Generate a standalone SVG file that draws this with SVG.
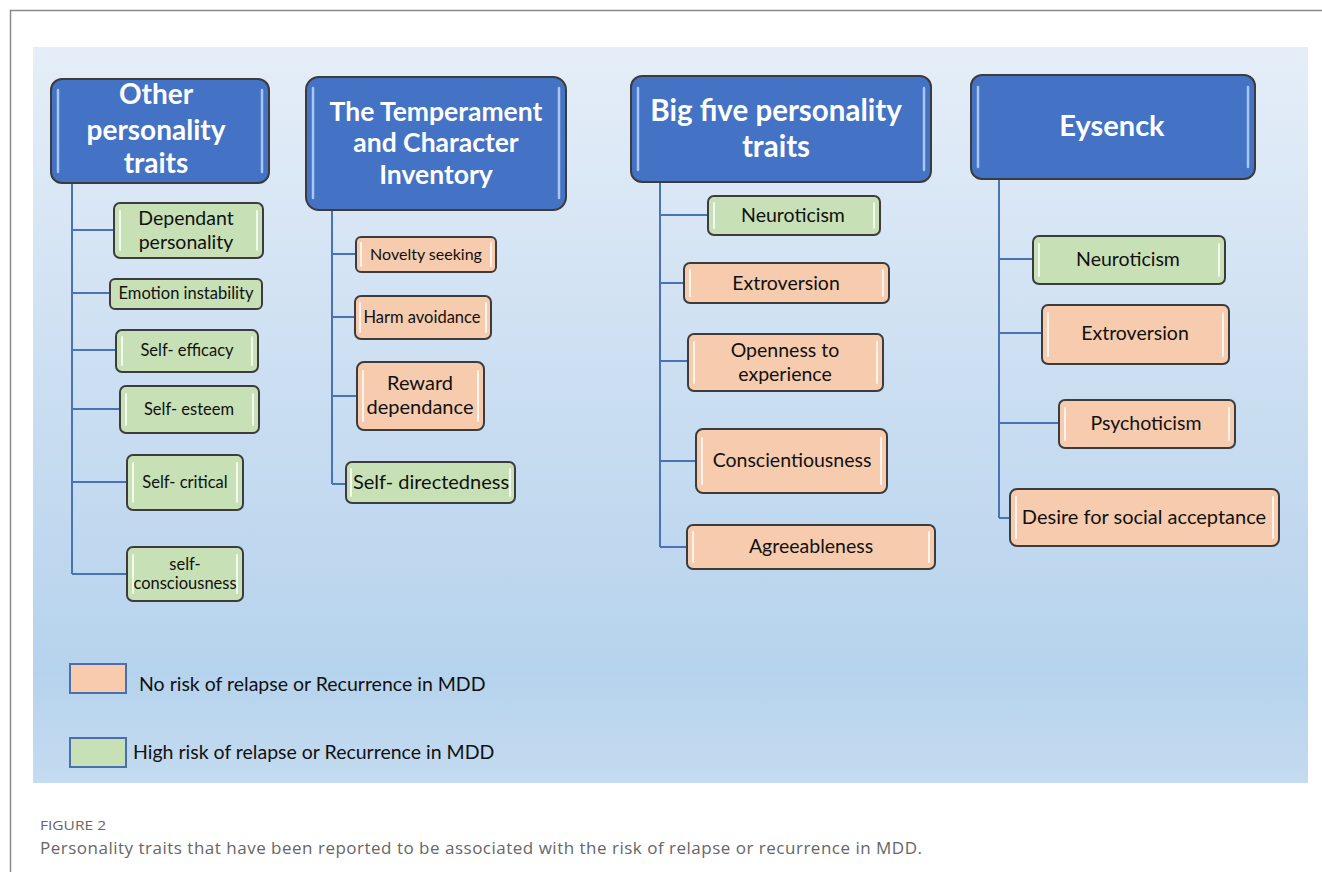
<svg xmlns="http://www.w3.org/2000/svg" width="1322" height="872" viewBox="0 0 1322 872">
<defs>
<linearGradient id="bg" x1="0" y1="0" x2="0" y2="1">
<stop offset="0" stop-color="#e5eef8"/>
<stop offset="0.5" stop-color="#c9ddf1"/>
<stop offset="0.85" stop-color="#b6d3ed"/>
<stop offset="1" stop-color="#c4dbf0"/>
</linearGradient>
<style>
.hdr{fill:#4472c4;stroke:#3c3c3c;stroke-width:2}
.g{fill:#c7e0b5;stroke:#3c3c3c;stroke-width:2}
.o{fill:#f7cbad;stroke:#3c3c3c;stroke-width:2}
.hl{stroke:#ffffff;stroke-width:2;opacity:0.8;stroke-linecap:round}
.hhl{stroke:#a9c6ee;stroke-width:2.5;stroke-linecap:round}
.ht{font-family:Lato,"Liberation Sans",sans-serif;font-weight:bold;fill:#ffffff;text-anchor:middle}
.t{font-family:Lato,"Liberation Sans",sans-serif;fill:#111111;text-anchor:middle}
.c{stroke:#4a72b8;stroke-width:2;fill:none}
.lg{font-family:Lato,"Liberation Sans",sans-serif;fill:#111111;font-size:19.5px}
.cap{font-family:"Open Sans","Noto Sans",sans-serif;fill:#666666}
</style>
</defs>
<rect x="0" y="0" width="1322" height="872" fill="#ffffff"/>
<path d="M10.5 872 V10.5 H1322" fill="none" stroke="#8a8a8a" stroke-width="1.5"/>
<rect x="33" y="47" width="1275" height="736" fill="url(#bg)"/>

<g id="connectors">
<path class="c" d="M72 183 V574 M72 230 H114 M72 293 H110 M72 350 H116 M72 409 H120 M72 482 H127 M72 574 H127"/>
<path class="c" d="M332 210 V484 M332 254 H356 M332 317 H355 M332 396 H357 M332 484 H346"/>
<path class="c" d="M660 182 V547 M660 215 H708 M660 283 H684 M660 361 H688 M660 461 H696 M660 547 H687"/>
<path class="c" d="M999 179 V518 M999 259 H1033 M999 333 H1042 M999 423 H1059 M999 518 H1010"/>
</g>

<g id="h1">
<rect class="hdr" x="51" y="79" width="218" height="104" rx="11"/>
<line class="hhl" x1="58" y1="90" x2="58" y2="172"/><line class="hhl" x1="262" y1="90" x2="262" y2="172"/>
<text class="ht" font-size="28"><tspan x="156" y="104">Other</tspan><tspan x="156" y="140">personality</tspan><tspan x="156" y="173">traits</tspan></text>
</g>
<g id="n_dep">
<rect class="g" x="114" y="203" width="149" height="55" rx="6"/>
<line class="hl" x1="120" y1="211" x2="120" y2="250"/><line class="hl" x1="257" y1="211" x2="257" y2="250"/>
<text class="t" font-size="19.5"><tspan x="186" y="225">Dependant</tspan><tspan x="186" y="249">personality</tspan></text>
</g>
<g id="n_emo">
<rect class="g" x="110" y="279" width="152" height="30" rx="5"/>
<text class="t" font-size="16.5" x="186" y="299">Emotion instability</text>
</g>
<g id="n_eff">
<rect class="g" x="116" y="330" width="142" height="42" rx="6"/>
<line class="hl" x1="122" y1="337" x2="122" y2="365"/><line class="hl" x1="252" y1="337" x2="252" y2="365"/>
<text class="t" font-size="16.5" x="187" y="356">Self- efficacy</text>
</g>
<g id="n_est">
<rect class="g" x="120" y="386" width="139" height="47" rx="6"/>
<line class="hl" x1="126" y1="394" x2="126" y2="425"/><line class="hl" x1="253" y1="394" x2="253" y2="425"/>
<text class="t" font-size="16.5" x="189" y="415">Self- esteem</text>
</g>
<g id="n_crit">
<rect class="g" x="127" y="455" width="116" height="55" rx="6"/>
<line class="hl" x1="133" y1="463" x2="133" y2="502"/><line class="hl" x1="237" y1="463" x2="237" y2="502"/>
<text class="t" font-size="16.5" x="185" y="488">Self- critical</text>
</g>
<g id="n_cons">
<rect class="g" x="127" y="547" width="116" height="54" rx="6"/>
<line class="hl" x1="133" y1="555" x2="133" y2="593"/><line class="hl" x1="237" y1="555" x2="237" y2="593"/>
<text class="t" font-size="16.5"><tspan x="185" y="570">self-</tspan><tspan x="185" y="589">consciousness</tspan></text>
</g>

<g id="h2">
<rect class="hdr" x="306" y="77" width="260" height="133" rx="13"/>
<line class="hhl" x1="313" y1="88" x2="313" y2="198"/><line class="hhl" x1="559" y1="88" x2="559" y2="198"/>
<text class="ht" font-size="26.5"><tspan x="436" y="121">The Temperament</tspan><tspan x="436" y="152">and Character</tspan><tspan x="436" y="184">Inventory</tspan></text>
</g>
<g id="n_nov">
<rect class="o" x="356" y="237" width="140" height="35" rx="5"/>
<line class="hl" x1="361" y1="243" x2="361" y2="266"/><line class="hl" x1="491" y1="243" x2="491" y2="266"/>
<text class="t" font-size="16" x="426" y="260">Novelty seeking</text>
</g>
<g id="n_harm">
<rect class="o" x="355" y="296" width="136" height="43" rx="6"/>
<line class="hl" x1="360" y1="303" x2="360" y2="332"/><line class="hl" x1="486" y1="303" x2="486" y2="332"/>
<text class="t" font-size="16.5" x="422" y="323">Harm avoidance</text>
</g>
<g id="n_rew">
<rect class="o" x="357" y="362" width="127" height="68" rx="7"/>
<line class="hl" x1="363" y1="371" x2="363" y2="421"/><line class="hl" x1="478" y1="371" x2="478" y2="421"/>
<text class="t" font-size="20"><tspan x="420" y="390">Reward</tspan><tspan x="420" y="414">dependance</tspan></text>
</g>
<g id="n_sdir">
<rect class="g" x="346" y="462" width="169" height="41" rx="6"/>
<line class="hl" x1="351" y1="469" x2="351" y2="496"/><line class="hl" x1="510" y1="469" x2="510" y2="496"/>
<text class="t" font-size="20" x="431" y="489">Self- directedness</text>
</g>

<g id="h3">
<rect class="hdr" x="631" y="76" width="300" height="106" rx="11"/>
<line class="hhl" x1="638" y1="88" x2="638" y2="170"/><line class="hhl" x1="924" y1="88" x2="924" y2="170"/>
<text class="ht" font-size="29.5"><tspan x="776" y="121">Big five personality</tspan><tspan x="776" y="157">traits</tspan></text>
</g>
<g id="n_neu1">
<rect class="g" x="708" y="196" width="172" height="39" rx="6"/>
<line class="hl" x1="714" y1="203" x2="714" y2="228"/><line class="hl" x1="874" y1="203" x2="874" y2="228"/>
<text class="t" font-size="19.5" x="793" y="222">Neuroticism</text>
</g>
<g id="n_ext1">
<rect class="o" x="684" y="263" width="205" height="40" rx="6"/>
<line class="hl" x1="690" y1="270" x2="690" y2="296"/><line class="hl" x1="883" y1="270" x2="883" y2="296"/>
<text class="t" font-size="19.5" x="786" y="290">Extroversion</text>
</g>
<g id="n_open">
<rect class="o" x="688" y="334" width="195" height="57" rx="6"/>
<line class="hl" x1="694" y1="342" x2="694" y2="383"/><line class="hl" x1="877" y1="342" x2="877" y2="383"/>
<text class="t" font-size="19.5"><tspan x="785" y="357">Openness to</tspan><tspan x="785" y="381">experience</tspan></text>
</g>
<g id="n_consc">
<rect class="o" x="696" y="429" width="191" height="64" rx="7"/>
<line class="hl" x1="702" y1="438" x2="702" y2="484"/><line class="hl" x1="881" y1="438" x2="881" y2="484"/>
<text class="t" font-size="19.5" x="792" y="467">Conscientiousness</text>
</g>
<g id="n_agr">
<rect class="o" x="687" y="525" width="248" height="44" rx="6"/>
<line class="hl" x1="693" y1="532" x2="693" y2="562"/><line class="hl" x1="929" y1="532" x2="929" y2="562"/>
<text class="t" font-size="19.5" x="811" y="553">Agreeableness</text>
</g>

<g id="h4">
<rect class="hdr" x="971" y="75" width="284" height="104" rx="11"/>
<line class="hhl" x1="978" y1="87" x2="978" y2="167"/><line class="hhl" x1="1248" y1="87" x2="1248" y2="167"/>
<text class="ht" font-size="29" x="1112" y="136">Eysenck</text>
</g>
<g id="n_neu2">
<rect class="g" x="1033" y="236" width="192" height="48" rx="6"/>
<line class="hl" x1="1039" y1="244" x2="1039" y2="276"/><line class="hl" x1="1219" y1="244" x2="1219" y2="276"/>
<text class="t" font-size="19.5" x="1128" y="266">Neuroticism</text>
</g>
<g id="n_ext2">
<rect class="o" x="1042" y="305" width="187" height="59" rx="6"/>
<line class="hl" x1="1048" y1="313" x2="1048" y2="356"/><line class="hl" x1="1223" y1="313" x2="1223" y2="356"/>
<text class="t" font-size="19.5" x="1135" y="340">Extroversion</text>
</g>
<g id="n_psy">
<rect class="o" x="1059" y="400" width="176" height="48" rx="6"/>
<line class="hl" x1="1065" y1="408" x2="1065" y2="440"/><line class="hl" x1="1229" y1="408" x2="1229" y2="440"/>
<text class="t" font-size="19.5" x="1146" y="430">Psychoticism</text>
</g>
<g id="n_des">
<rect class="o" x="1010" y="489" width="269" height="57" rx="7"/>
<line class="hl" x1="1016" y1="497" x2="1016" y2="538"/><line class="hl" x1="1273" y1="497" x2="1273" y2="538"/>
<text class="t" font-size="20" x="1144" y="524">Desire for social acceptance</text>
</g>

<g id="legend">
<rect x="70" y="664" width="56" height="29" fill="#f8cbad" stroke="#4a6fb0" stroke-width="2"/>
<text class="lg" x="139" y="691">No risk of relapse or Recurrence in MDD</text>
<rect x="70" y="738" width="56" height="29" fill="#c7e0b5" stroke="#4a6fb0" stroke-width="2"/>
<text class="lg" x="133" y="759">High risk of relapse or Recurrence in MDD</text>
</g>

<g id="caption">
<text class="cap" x="40" y="830" font-size="13" textLength="66" lengthAdjust="spacingAndGlyphs">FIGURE 2</text>
<text class="cap" x="40" y="854" font-size="17" textLength="882" lengthAdjust="spacing">Personality traits that have been reported to be associated with the risk of relapse or recurrence in MDD.</text>
</g>
</svg>
